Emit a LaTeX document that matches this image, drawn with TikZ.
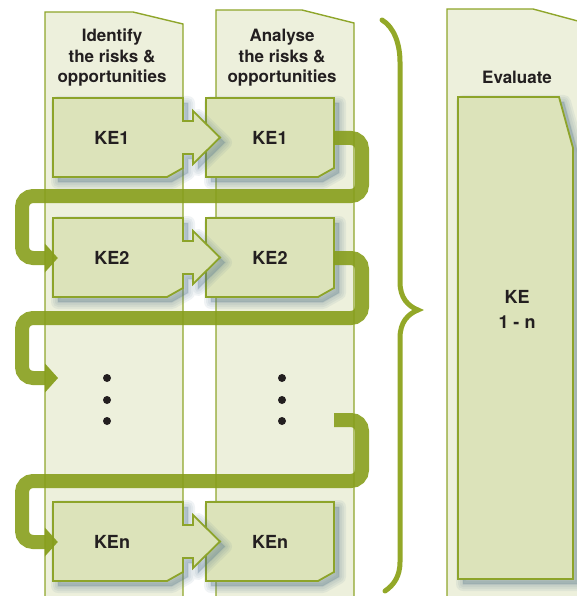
\documentclass[tikz,border=0pt]{standalone}
\usepackage{fontspec}
\setmainfont{TeX Gyre Heros}
\usetikzlibrary{arrows.meta}

\definecolor{colfill}{HTML}{EDF0DC}
\definecolor{colline}{HTML}{8FA62B}
\definecolor{boxfill}{HTML}{DCE3BA}
\definecolor{boxline}{HTML}{8DA42A}
\definecolor{conncol}{HTML}{879E1C}
\definecolor{bracecol}{HTML}{93A828}
\definecolor{txt}{HTML}{231F20}
\definecolor{shadowc}{HTML}{56778E}

% soft drop shadow: the same outline stacked with growing stroke widths
\newcommand\softshadow[1]{%
  \foreach \w in {14,10,6,2}{%
    \fill[shadowc, draw=shadowc, opacity=0.085, line width=\w pt,
          line join=round, shift={(5,5)}, #1];}}

\begin{document}
\begin{tikzpicture}[x=1pt, y=-1pt,
  pane/.style={fill=colfill},
  paneline/.style={draw=colline, line width=1.4pt},
  stepbox/.style={fill=boxfill, draw=boxline, line width=1.8pt, line join=miter},
  % first-column box with its arrow notch
  shapeA/.style={insert path={(53,#1) -- (183,#1) -- (183,#1+23) -- (193,#1+23)
      -- (193,#1+13) -- (220,#1+39.5) -- (193,#1+66) -- (193,#1+56) -- (183,#1+56)
      -- (183,#1+70) -- (167,#1+79) -- (53,#1+79) -- cycle}},
  % second-column box with clipped corner
  shapeB/.style={insert path={(206,#1) -- (334,#1) -- (334,#1+70) -- (318,#1+79)
      -- (206,#1+79) -- cycle}},
  shapeE/.style={insert path={(458,97) -- (559,97) -- (573,148) -- (573,579)
      -- (458,579) -- cycle}},
  lbl/.style={font=\fontsize{18}{22}\selectfont\bfseries, text=txt,
      inner sep=0pt, minimum height=79pt},
  head/.style={font=\fontsize{17}{20.5}\selectfont\bfseries, text=txt,
      align=center, inner sep=0pt},
  dot/.style={circle, fill=txt, inner sep=0pt, minimum size=8pt},
  conn/.style={draw=conncol, line width=14pt, rounded corners=11pt, opacity=0.9},
  tiphead/.style={fill=conncol, opacity=0.95}
]
\useasboundingbox (0,0) rectangle (577,596);
\clip (0,0) rectangle (577,596);

% column panes
\fill[pane] (45,600) -- (45,12) -- (133,12) -- (183,24) -- (183,600) -- cycle;
\fill[pane] (216,600) -- (216,10) -- (302,10) -- (354,23) -- (354,600) -- cycle;
\fill[pane] (447,600) -- (447,9) -- (533,9) -- (600,27) -- (600,600) -- cycle;
\draw[paneline] (45,600) -- (45,12) -- (133,12) -- (183,24) -- (183,600);
\draw[paneline] (216,600) -- (216,10) -- (302,10) -- (354,23) -- (354,600);
\draw[paneline] (447,600) -- (447,9) -- (533,9) -- (600,27);

% column headings
\node[head] (h1) at (112,58) {Identify\\the risks \&\\opportunities};
\node[head] (h2) at (282,58) {Analyse\\the risks \&\\opportunities};
\node[head] (h3) at (517,77) {Evaluate};

% brace grouping the two columns
\draw[bracecol, line width=5pt, line cap=round]
  (382,20) .. controls (394,27) and (400,44) .. (400,62) -- (400,282)
  .. controls (400,298) and (408,306) .. (418,310)
  .. controls (408,314) and (400,322) .. (400,338) -- (400,562)
  .. controls (400,576) and (394,585) .. (385,591);

% evaluation box
\softshadow{shapeE}
\path[stepbox, shapeE];
\node[head, font=\fontsize{18}{25}\selectfont\bfseries] (ev) at (517,309) {KE\\1 - n};

% second-column boxes
\foreach \t in {98,218,502}{\softshadow{shapeB=\t}}
\foreach \t in {98,218,502}{\path[stepbox, shapeB=\t];}
% first-column boxes
\foreach \t in {98,218,502}{\softshadow{shapeA=\t}}
\foreach \t in {98,218,502}{\path[stepbox, shapeA=\t];}

% labels inside the boxes
\node[lbl, minimum width=118pt] (a1) at (112,138) {KE1};
\node[lbl, minimum width=118pt] (a2) at (112,258) {KE2};
\node[lbl, minimum width=118pt] (an) at (112,542) {KEn};
\node[lbl, minimum width=128pt] (b1) at (270,138) {KE1};
\node[lbl, minimum width=128pt] (b2) at (270,258) {KE2};
\node[lbl, minimum width=128pt] (bn) at (270,542) {KEn};

% ellipsis rows
\node[dot] (p1) at (107,378) {};
\node[dot] (p2) at (107,400) {};
\node[dot] (p3) at (107,421) {};
\node[dot] (q1) at (282,378) {};
\node[dot] (q2) at (282,400) {};
\node[dot] (q3) at (282,421) {};
\coordinate (dotsin) at (45,378);
\coordinate (dotsout) at (334,420);

% flow from each analysed item back to the next identified item
\draw[conn] (b1.east) -- (362,138) -- (362,196) -- (22,196) -- (22,258)
  -- ([xshift=-8pt]a2.west);
\fill[tiphead] ([xshift=-8pt]a2.west) ++(0,-14.5) -- ++(13,14.5) -- ++(-13,14.5) -- cycle;

\draw[conn] (b2.east) -- (362,258) -- (362,318) -- (22,318) -- (22,378)
  -- (dotsin);
\fill[tiphead] (dotsin) ++(0,-14.5) -- ++(13,14.5) -- ++(-13,14.5) -- cycle;

\draw[conn] (dotsout) -- (362,420) -- (362,481) -- (22,481) -- (22,542)
  -- ([xshift=-8pt]an.west);
\fill[tiphead] ([xshift=-8pt]an.west) ++(0,-14.5) -- ++(13,14.5) -- ++(-13,14.5) -- cycle;
\end{tikzpicture}
\end{document}
